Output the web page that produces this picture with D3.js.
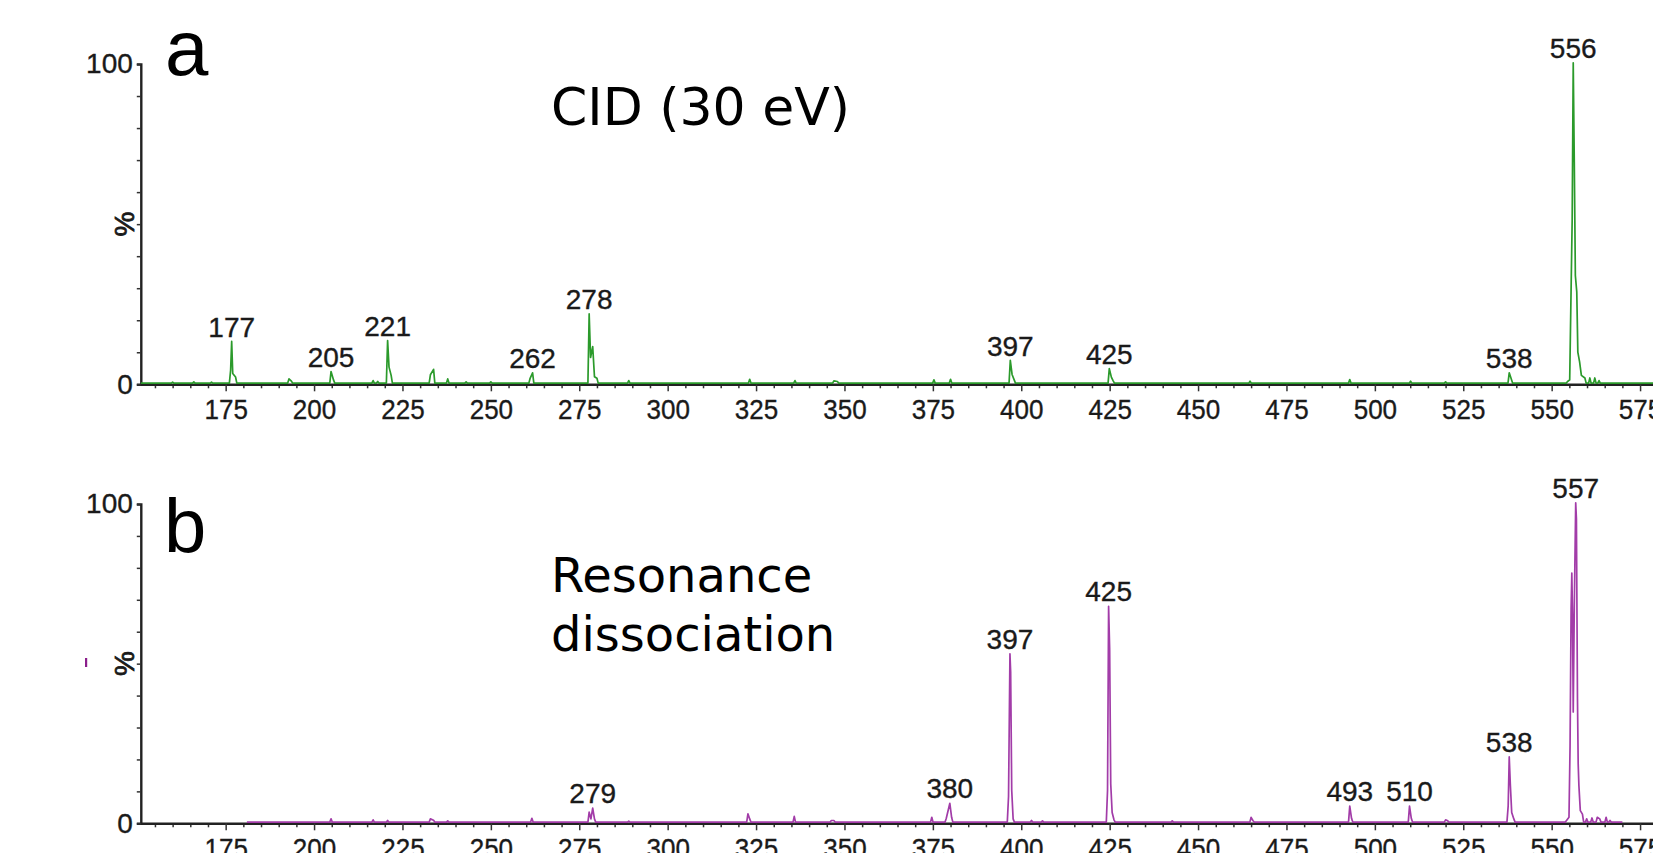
<!DOCTYPE html>
<html><head><meta charset="utf-8">
<script src="https://cdn.jsdelivr.net/npm/d3@7"></script>
<style>body{margin:0;background:#fff;overflow:hidden}</style>
</head><body><svg id="c" width="1653" height="853"></svg>
<script>
// ---- data (m/z, relative intensity %) ----
const cidMz  = [160,166,171,176.4,176.7,177.0,177.8,192.9,193.6,204.8,205.5,216.7,218,220.8,221.2,221.8,232.9,233.8,237.8,243,250,261.1,261.8,
  277.8,278.2,278.8,279.3,280,289,323.2,336,347,348,375.3,380,396.9,397.4,398,424.9,425.5,426,464.7,492.9,510.1,520,538,538.6,
  554.5,555.1,555.8,556.1,556.4,556.7,557.1,557.4,557.9,558.4,559.4,560.8,562.2,563.4];
const cidInt = [0.3,0.4,0.3,4,13.0,3,1.9,1.3,0.6,3.6,1.0,0.8,0.5,13.3,5,2.4,2.6,4.3,1.3,0.4,0.4,1.5,3.2,
  21.6,8,11.4,2,1.5,0.8,1.2,0.8,0.7,0.5,1.0,1.2,7.1,2.7,1,4.5,1.8,0.7,0.6,1.1,0.6,0.4,3.2,1.2,
  0.5,1,51,100,69,33.6,28.5,9.7,6.6,2.4,1.6,1.6,1.6,0.8];
const rdMz  = [204.8,216.7,220.8,232.9,233.8,237.8,261.6,277.8,278.3,278.8,279.3,289,322.7,323.2,335.8,346.3,347,374.7,378.8,379.8,380.3,
  396.4,396.8,397.0,397.3,397.7,402.9,406,424.4,424.7,425.0,425.3,425.7,426.2,442.7,465,465.5,492.9,493.4,509.8,510.3,520,520.6,
  537.7,538.0,538.3,538.7,539.3,554.2,554.9,555.2,555.5,555.7,555.9,556.1,556.4,556.8,557.0,557.3,557.5,557.7,558.1,558.7,559.9,
  561.4,562.9,563.6,565.4,566.5];
const rdInt = [1.0,0.7,0.5,1.0,0.6,0.4,1.2,3.1,1,4.4,1,0.3,2.6,1,1.8,0.5,0.5,1.5,1.2,5.9,1.5,
  8,52.7,47,10,1,0.5,0.4,10,67.6,54,12,3,0.8,0.4,1.5,0.5,5.0,1.2,5.0,1.2,0.7,0.4,
  5,20.4,12,3,1,0.5,1.5,23.5,66.8,78,64.7,34.5,67.3,100,95,38.6,18.3,11.5,3.6,2.5,1,
  1.3,1.5,1,1.5,0.5];
const cidLabels = ["177","205","221","262","278","397","425","538","556"];
const rdLabels  = ["279","380","397","425","493","510","538","557"];
const xTickLabels = [175,200,225,250,275,300,325,350,375,400,425,450,475,500,525,550,575];
const yTickLabels = [0,100];

// ---- layout ----
const svg = d3.select("#c");
const x = d3.scaleLinear().domain([151, 600]).range([140.8, 140.8 + 449 * 3.536]);
const panels = [
  {mz: cidMz, inten: cidInt, labels: cidLabels, y: d3.scaleLinear().domain([0,100]).range([384.3, 64]),
   color: "#2b9a2b", start: 151, end: 600},
  {mz: rdMz, inten: rdInt, labels: rdLabels, y: d3.scaleLinear().domain([0,100]).range([823.3, 504]),
   color: "#a23ca8", start: 181, end: 570}
];

function profile(mz, inten, start, end) {
  const pts = [[start, 0]];
  let prev = null;
  mz.forEach((m, i) => {
    if (prev === null || m - prev > 1.0) {
      if (prev !== null) pts.push([prev + 0.35, 0]);
      pts.push([m - 0.35, 0]);
    }
    pts.push([m, inten[i]]);
    prev = m;
  });
  pts.push([prev + 0.35, 0], [end, 0]);
  return pts;
}

const numFont = "'Liberation Sans', Arial, sans-serif";
const txtCol = "#1a1a1a";
function numStyle(sel, size) {
  sel.attr("font-family", numFont).attr("font-size", size).attr("fill", txtCol)
     .attr("stroke", txtCol).attr("stroke-width", 0.35);
}

panels.forEach(p => {
  const y = p.y;
  const y0 = y(0);
  // y axis
  const ya = svg.append("g").attr("transform", `translate(${x(151)},0)`)
    .call(d3.axisLeft(y).tickValues(d3.range(0, 101, 10)).tickSize(4).tickPadding(4)
      .tickFormat(d => yTickLabels.includes(d) ? d : ""));
  // minor x ticks
  const xm = svg.append("g").attr("transform", `translate(0,${y0})`)
    .call(d3.axisBottom(x).tickValues(d3.range(155, 600, 5).filter(v => v % 25 !== 0)).tickSize(4).tickFormat(""))
    .call(g => g.select(".domain").remove());
  // major x ticks
  const xa = svg.append("g").attr("transform", `translate(0,${y0})`)
    .call(d3.axisBottom(x).tickValues(xTickLabels).tickSize(7).tickPadding(8).tickSizeOuter(0));
  [ya, xa, xm].forEach(g => {
    g.selectAll(".domain").attr("stroke", "#222").attr("stroke-width", 2.4);
    g.selectAll(".tick line").attr("stroke", "#333").attr("stroke-width", 1.5);
    numStyle(g.selectAll("text"), 28);
  });
  xa.selectAll("text").attr("transform", "scale(0.93,1)");

  // spectrum
  const line = d3.line().x(d => x(d[0])).y(d => y(d[1]));
  svg.append("path").datum(profile(p.mz, p.inten, p.start, p.end))
    .attr("d", line).attr("fill", "none").attr("stroke", p.color).attr("stroke-width", 1.7)
    .attr("stroke-linejoin", "round").attr("transform", "translate(0,-1.2)");

  // peak labels
  p.labels.forEach(lbl => {
    const v = +lbl;
    let best = -1;
    p.mz.forEach((m, i) => { if (Math.abs(m - v) <= 1.5 && (best < 0 || p.inten[i] > p.inten[best])) best = i; });
    const t = svg.append("text").attr("x", x(p.mz[best])).attr("y", y(p.inten[best]) - 6)
      .attr("text-anchor", "middle").text(lbl);
    numStyle(t, 28);
  });

  // % axis title
  const cy = (y(0) + y(100)) / 2;
  const pt = svg.append("text").attr("transform", `translate(${x(151) - 7},${cy}) rotate(-90)`)
    .attr("text-anchor", "middle").text("%");
  numStyle(pt, 28);
  pt.attr("stroke-width", 0.8);
});

// panel letters & annotations
svg.append("text").attr("x", 165).attr("y", 75).attr("font-family", numFont).attr("font-size", 78).text("a");
svg.append("text").attr("x", 164).attr("y", 552).attr("font-family", numFont).attr("font-size", 76).text("b");
const annFont = "'DejaVu Sans', Verdana, sans-serif";
svg.append("text").attr("x", 551).attr("y", 125).attr("font-family", annFont).attr("font-size", 52).text("CID (30 eV)");
svg.append("text").attr("x", 551).attr("y", 591.7).attr("font-family", annFont).attr("font-size", 48).text("Resonance");
svg.append("text").attr("x", 551).attr("y", 651).attr("font-family", annFont).attr("font-size", 48).text("dissociation");
// small purple mark at left of panel b
svg.append("rect").attr("x", 85).attr("y", 658).attr("width", 2.2).attr("height", 9).attr("fill", "#8b1e8b");
</script></body></html>
